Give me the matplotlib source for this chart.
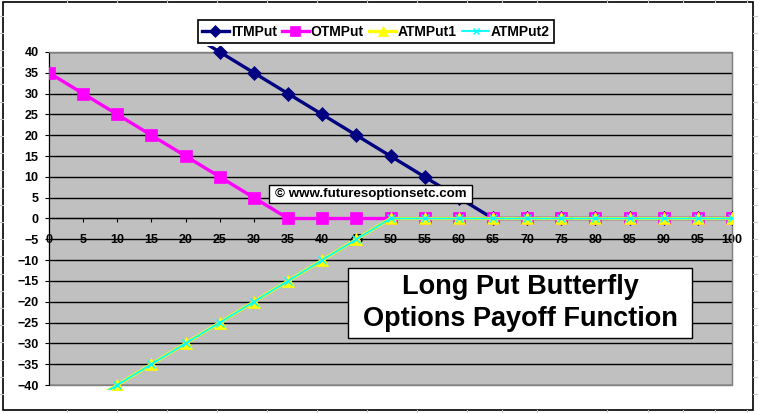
import matplotlib
matplotlib.use("Agg")
import matplotlib.pyplot as plt
from matplotlib.patches import Rectangle
from matplotlib.lines import Line2D

plt.rcParams['font.family'] = ['Liberation Sans', 'DejaVu Sans']
plt.rcParams['font.weight'] = 'bold'

# strike / underlying price categories
prices = [0, 5, 10, 15, 20, 25, 30, 35, 40, 45, 50,
          55, 60, 65, 70, 75, 80, 85, 90, 95, 100]
price_labels = [str(p) for p in prices]

# payoff of each leg
itm_put = [65, 60, 55, 50, 45, 40, 35, 30, 25, 20, 15, 10, 5, 0, 0, 0, 0, 0, 0, 0, 0]
otm_put = [35, 30, 25, 20, 15, 10, 5, 0, 0, 0, 0, 0, 0, 0, 0, 0, 0, 0, 0, 0, 0]
atm_put1 = [-50, -45, -40, -35, -30, -25, -20, -15, -10, -5, 0, 0, 0, 0, 0, 0, 0, 0, 0, 0, 0]
atm_put2 = [-50, -45, -40, -35, -30, -25, -20, -15, -10, -5, 0, 0, 0, 0, 0, 0, 0, 0, 0, 0, 0]

y_ticks = list(range(-40, 45, 5))

W, H = 758, 413
fig = plt.figure(figsize=(W / 100, H / 100), dpi=100)
fig.patch.set_facecolor('white')

def fx(px):
    return px / W

def fy(py):
    return 1 - py / H

# spreadsheet cell lines peeking out around the chart
grid_col = '#C8C8C8'
col_x = [67, 117, 167, 217, 267, 317, 367, 417, 467, 502, 537, 607, 648, 683, 715, 747]
for cx in col_x:
    fig.add_artist(Line2D([fx(cx)] * 2, [fy(0), fy(2)], color=grid_col, lw=0.8))
    fig.add_artist(Line2D([fx(cx)] * 2, [fy(410), fy(413)], color=grid_col, lw=0.8))
for k in range(24):
    ry = 394 - 17.2 * k
    if ry < 3:
        break
    fig.add_artist(Line2D([fx(753), fx(758)], [fy(ry)] * 2, color=grid_col, lw=0.8))
    fig.add_artist(Line2D([fx(0), fx(3)], [fy(ry)] * 2, color=grid_col, lw=0.8))

# chart area border
fig.add_artist(Rectangle((fx(3), fy(410)), fx(750), 408 / H, transform=fig.transFigure,
                         fill=False, edgecolor='black', lw=1.2))

ax = fig.add_axes([fx(49), fy(385), fx(732 - 49), (385 - 52) / H])
ax.set_facecolor('#C0C0C0')
ax.set_xlim(0, 100)
ax.set_ylim(-40, 40)

clip = Rectangle((0, -0.016), 1, 1.034, transform=ax.transAxes)

series = [
    (itm_put, 'ITMPut', '#000080', 'D', 7.5, 2.4),
    (otm_put, 'OTMPut', '#FF00FF', 's', 8.5, 2.4),
    (atm_put1, 'ATMPut1', '#FFFF00', '^', 9, 2.4),
    (atm_put2, 'ATMPut2', '#00FFFF', 'x', 5.5, 1.3),
]
handles = []
for i, (vals, name, col, mk, ms, lw) in enumerate(series):
    ln, = ax.plot(prices, vals, color=col, marker=mk, markersize=ms, lw=lw,
                  markeredgecolor=col, markeredgewidth=1 if mk == 'x' else 0.5,
                  zorder=3 + i, label=name, clip_on=True)
    ln.set_clip_path(clip)
    handles.append(Line2D([], [], color=col, marker=mk, markersize=ms * 0.8, lw=lw,
                          markeredgecolor=col, markeredgewidth=1 if mk == 'x' else 0.5))

ax.set_yticks(y_ticks)
ax.yaxis.grid(True, color='black', lw=1)
ax.set_axisbelow(True)
ax.set_xticks(prices)
ax.set_xticklabels(price_labels)

for side in ['top', 'right']:
    ax.spines[side].set_color('#808080')
ax.spines['left'].set_color('black')
ax.spines['bottom'].set_position(('data', 0))
ax.spines['bottom'].set_color('black')
ax.spines['bottom'].set_zorder(2.5)
ax.add_patch(Rectangle((0, 0), 1, 1, transform=ax.transAxes, fill=False,
                       edgecolor='#808080', lw=1, clip_on=False, zorder=1.5))

ax.tick_params(axis='x', direction='out', length=3, width=0.8, pad=8,
               labelsize=9, colors='black')
ax.tick_params(axis='y', direction='out', length=3, width=0.8, pad=4.5,
               labelsize=9, colors='black')
for t in ax.get_xticklabels() + ax.get_yticklabels():
    t.set_fontweight('bold')

leg = fig.legend(handles, [s[1] for s in series], loc='center',
                 bbox_to_anchor=(fx(376), fy(31.5)), ncol=4,
                 frameon=True, fancybox=False, edgecolor='black', framealpha=1,
                 handlelength=1.9, handletextpad=0.15, columnspacing=0.4,
                 borderpad=0.3, borderaxespad=0, prop={'weight': 'bold', 'size': 10})
leg.get_frame().set_linewidth(1.2)

# copyright label
fig.add_artist(Rectangle((fx(269), fy(203)), fx(472 - 269), (203 - 185) / H,
                         transform=fig.transFigure, facecolor='white',
                         edgecolor='black', lw=1, zorder=10))
fig.text(fx(370.5), fy(194), '© www.futuresoptionsetc.com', ha='center', va='center',
         fontsize=9.6, fontweight='bold', zorder=11)

# title box
fig.add_artist(Rectangle((fx(348), fy(338)), fx(692 - 348), (338 - 268) / H,
                         transform=fig.transFigure, facecolor='white',
                         edgecolor='black', lw=1, zorder=10))
fig.text(fx(520), fy(303), 'Long Put Butterfly\nOptions Payoff Function',
         ha='center', va='center', fontsize=19.5, fontweight='bold',
         linespacing=1.25, zorder=11)

fig.savefig('out.png', dpi=100)
